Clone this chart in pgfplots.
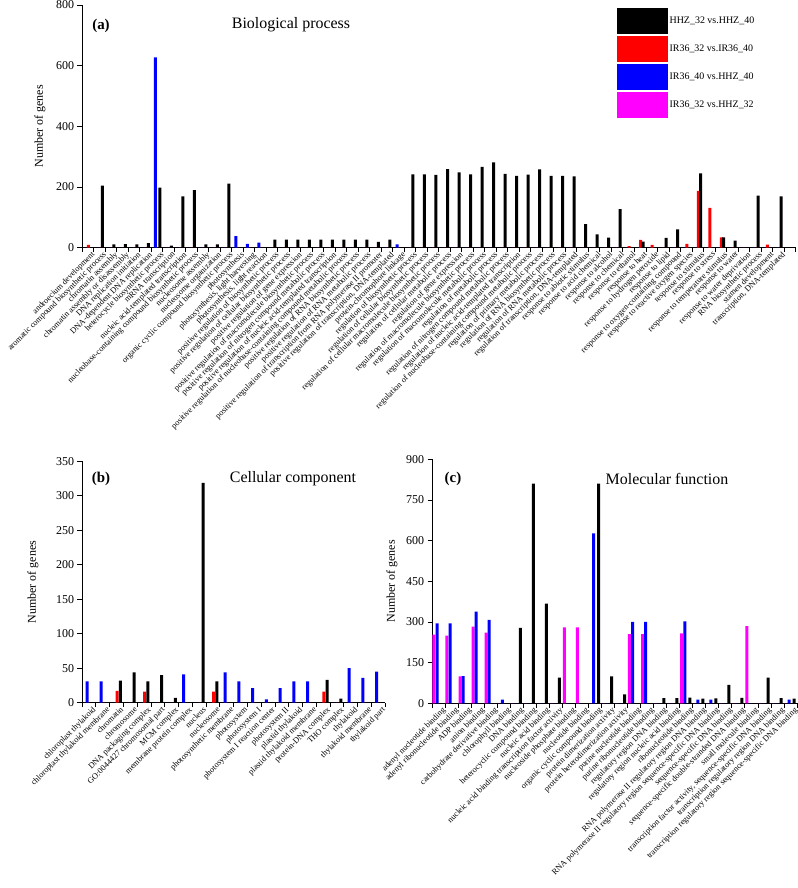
\documentclass[border=0pt]{standalone}
\usepackage{fontspec}
\setmainfont{Liberation Serif}
\usepackage{pgfplots}
\usepackage{pgfplotstable}
\pgfplotsset{compat=1.18}

\definecolor{hhz}{RGB}{0,0,0}
\definecolor{irr}{RGB}{255,0,0}
\definecolor{irb}{RGB}{0,0,255}
\definecolor{irm}{RGB}{255,0,255}

% k = category, bk = HHZ_32 vs HHZ_40, rd = IR36_32 vs IR36_40, bl = IR36_40 vs HHZ_40
\pgfplotstableread{
k bk rd bl
1 0 9 0
2 205 0 0
3 11 0 0
4 12 0 0
5 11 0 0
6 15 0 0
7 198 0 627
8 7 0 0
9 169 0 0
10 190 0 0
11 11 0 0
12 11 0 0
13 211 0 0
14 0 0 38
15 0 0 13
16 0 0 17
17 27 0 0
18 27 0 0
19 27 0 0
20 27 0 0
21 27 0 0
22 27 0 0
23 27 0 0
24 27 0 0
25 27 0 0
26 19 0 0
27 27 0 0
28 0 0 11
29 242 0 0
30 242 0 0
31 240 0 0
32 259 0 0
33 248 0 0
34 242 0 0
35 266 0 0
36 281 0 0
37 243 0 0
38 237 0 0
39 241 0 0
40 258 0 0
41 237 0 0
42 237 0 0
43 235 0 0
44 78 0 0
45 44 0 0
46 33 0 0
47 127 0 0
48 0 5 0
49 20 26 0
50 0 9 0
51 32 0 0
52 60 0 0
53 0 13 0
54 245 187 0
55 0 131 0
56 34 34 0
57 23 0 0
58 0 0 0
59 172 0 0
60 0 10 0
61 169 0 0
}\bpdata

\pgfplotstableread{
k bk rd bl
1 0 0 31
2 0 0 31
3 32 17 0
4 44 0 0
5 31 16 0
6 40 0 0
7 7 0 0
8 0 0 41
9 319 0 0
10 31 16 0
11 0 0 44
12 0 0 31
13 0 0 21
14 0 0 5
15 0 0 21
16 0 0 31
17 0 0 31
18 33 16 0
19 6 0 0
20 0 0 50
21 0 0 36
22 0 0 45
}\ccdata

% mg = IR36_32 vs HHZ_32
\pgfplotstableread{
k bk bl mg
1 0 295 253
2 0 295 250
3 0 100 99
4 0 338 283
5 0 308 261
6 0 14 0
7 278 0 0
8 810 0 0
9 368 0 0
10 95 0 0
11 0 0 280
12 0 0 280
13 810 627 0
14 99 0 0
15 33 0 0
16 0 300 255
17 0 300 255
18 19 0 0
19 19 0 0
20 21 302 258
21 17 14 0
22 18 14 0
23 68 0 0
24 20 0 0
25 0 0 285
26 95 0 0
27 19 0 0
28 17 14 0
}\mfdata

\pgfplotsset{
  goaxis/.style={
    scale only axis, anchor=south west,
    axis lines=left, axis line style={-, line width=0.8bp},
    tick align=outside, major tick length=4.5bp,
    tick style={black, line width=0.8bp},
    ymin=0, xmin=0.5,
    xticklabels={},
    extra x tick style={major tick length=0pt,
      xticklabel style={rotate=45, anchor=north east, xshift=1bp, yshift=-3.5bp,
        inner sep=1bp, font=\fontsize{8.3}{9}\selectfont}},
    yticklabel style={font=\fontsize{12}{14}\selectfont},
    /pgf/number format/assume math mode=true,
    ylabel={Number of genes},
    ylabel style={font=\fontsize{12}{14}\selectfont, anchor=center},
  },
  gobar/.style={ybar, bar width=3bp, bar shift=0pt, draw=none, fill=#1, forget plot},
}

\begin{document}
\begin{tikzpicture}

% (a) Biological process
\begin{axis}[goaxis,
  at={(82bp,640.3bp)}, width=713.5bp, height=242.7bp,
  xmax=62.5, ymax=800, ytick={0,200,...,800},
  xtick={0.5,1.5,...,62.5},
  extra x ticks={1,...,61},
  extra x tick labels={androecium development, aromatic compound biosynthetic process, chromatin assembly, chromatin assembly or disassembly, DNA replication initiation, DNA-dependent DNA replication, heterocycle biosynthetic process, mRNA transcription, nucleic acid-templated transcription, nucleobase-containing compound biosynthetic process, nucleosome assembly, nucleosome organization, organic cyclic compound biosynthetic process, photosynthesis, {photosynthesis, light harvesting}, {photosynthesis, light reaction}, positive regulation of biosynthetic process, positive regulation of cellular biosynthetic process, positive regulation of gene expression, positive regulation of macromolecule biosynthetic process, positive regulation of nitrogen compound metabolic process, positive regulation of nucleic acid-templated transcription, positive regulation of nucleobase-containing compound metabolic process, positive regulation of RNA biosynthetic process, positive regulation of RNA metabolic process, positive regulation of transcription from RNA polymerase II promoter, {positive regulation of transcription, DNA-templated}, protein-chromophore linkage, regulation of biosynthetic process, regulation of cellular biosynthetic process, regulation of cellular macromolecule biosynthetic process, regulation of cellular metabolic process, regulation of gene expression, regulation of macromolecule biosynthetic process, regulation of macromolecule metabolic process, regulation of metabolic process, regulation of nitrogen compound metabolic process, regulation of nucleic acid-templated transcription, regulation of nucleobase-containing compound metabolic process, regulation of primary metabolic process, regulation of RNA biosynthetic process, regulation of RNA metabolic process, {regulation of transcription, DNA-templated}, response to abiotic stimulus, response to acid chemical, response to alcohol, response to chemical, response to ethanol, response to heat, response to hydrogen peroxide, response to lipid, response to oxygen-containing compound, response to reactive oxygen species, response to stimulus, response to stress, response to temperature stimulus, response to water, response to water deprivation, RNA biosynthetic process, stamen development, {transcription, DNA-templated}},
  ylabel style={at={(axis description cs:-0.059,0.5)}},
  legend style={at={(axis description cs:0.7498,0.9876)}, anchor=north west,
    draw=none, fill=none, inner sep=0pt, row sep=2.6bp,
    font=\fontsize{10}{12}\selectfont, cells={anchor=west}},
]
\addplot[gobar=irb] table[x expr=\thisrow{k}-0.12, y=bl] {\bpdata};
\addplot[gobar=irr] table[x expr=\thisrow{k}+0.05, y=rd] {\bpdata};
\addplot[gobar=hhz] table[x expr=\thisrow{k}+0.26, y=bk] {\bpdata};
\addlegendimage{legend image code/.code={\fill[hhz] (0bp,-12.5bp) rectangle (50bp,12.5bp);}}
\addlegendentry{HHZ\_32 vs.HHZ\_40}
\addlegendimage{legend image code/.code={\fill[irr] (0bp,-12.5bp) rectangle (50bp,12.5bp);}}
\addlegendentry{IR36\_32 vs.IR36\_40}
\addlegendimage{legend image code/.code={\fill[irb] (0bp,-12.5bp) rectangle (50bp,12.5bp);}}
\addlegendentry{IR36\_40 vs.HHZ\_40}
\addlegendimage{legend image code/.code={\fill[irm] (0bp,-12.5bp) rectangle (50bp,12.5bp);}}
\addlegendentry{IR36\_32 vs.HHZ\_32}
\end{axis}

% (b) Cellular component
\begin{axis}[goaxis,
  at={(82bp,185.3bp)}, width=303.2bp, height=241.3bp,
  xmax=22.5, ymax=350, ytick={0,50,...,350},
  xtick={0.5,1.5,...,22.5},
  extra x ticks={1,...,22},
  extra x tick labels={chloroplast thylakoid, chloroplast thylakoid membrane, chromatin, chromosome, DNA packaging complex, GO:0044427 chromosomal part, MCM complex, membrane protein complex, nucleus, nucleosome, photosynthetic membrane, photosystem, photosystem I, photosystem I reaction center, photosystem II, plastid thylakoid, plastid thylakoid membrane, protein-DNA complex, THO complex, thylakoid, thylakoid membrane, thylakoid part},
  ylabel style={at={(axis description cs:-0.162,0.5)}},
]
\addplot[gobar=irb] table[x expr=\thisrow{k}-0.12, y=bl] {\ccdata};
\addplot[gobar=irr] table[x expr=\thisrow{k}+0.05, y=rd] {\ccdata};
\addplot[gobar=hhz] table[x expr=\thisrow{k}+0.28, y=bk] {\ccdata};
\end{axis}

% (c) Molecular function
\begin{axis}[goaxis,
  at={(432bp,184.7bp)}, width=365bp, height=244bp,
  xmax=28.5, ymax=900, ytick={0,150,...,900},
  xtick={0.5,1.5,...,28.5},
  extra x ticks={1,...,28},
  extra x tick labels={adenyl nucleotide binding, adenyl ribonucleotide binding, ADP binding, anion binding, carbohydrate derivative binding, chlorophyll binding, DNA binding, heterocyclic compound binding, nucleic acid binding, nucleic acid binding transcription factor activity, nucleoside phosphate binding, nucleotide binding, organic cyclic compound binding, protein dimerization activity, protein heterodimerization activity, purine nucleotide binding, purine ribonucleotide binding, regulatory region DNA binding, regulatory region nucleic acid binding, ribonucleotide binding, RNA polymerase II regulatory region DNA binding, RNA polymerase II regulatory region sequence-specific DNA binding, sequence-specific DNA binding, sequence-specific double-stranded DNA binding, small molecule binding, {transcription factor activity, sequence-specific DNA binding}, transcription regulatory region DNA binding, transcription regulatory region sequence-specific DNA binding},
  ylabel style={at={(axis description cs:-0.11,0.5)}},
]
\addplot[gobar=irm] table[x expr=\thisrow{k}-0.35, y=mg] {\mfdata};
\addplot[gobar=irb] table[x expr=\thisrow{k}-0.11, y=bl] {\mfdata};
\addplot[gobar=hhz] table[x expr=\thisrow{k}+0.28, y=bk] {\mfdata};
\end{axis}

\node[font=\fontsize{15}{17}\selectfont\bfseries] at (101bp,862bp) {(a)};
\node[font=\fontsize{16}{18}\selectfont] at (291bp,863bp) {Biological process};
\node[font=\fontsize{15}{17}\selectfont\bfseries] at (101bp,409bp) {(b)};
\node[font=\fontsize{16}{18}\selectfont] at (293bp,409bp) {Cellular component};
\node[font=\fontsize{15}{17}\selectfont\bfseries] at (453bp,409bp) {(c)};
\node[font=\fontsize{16}{18}\selectfont] at (667bp,409bp) {Molecular function};

\pgfresetboundingbox
\path (0,0) rectangle (798bp,888bp);
\end{tikzpicture}
\end{document}
